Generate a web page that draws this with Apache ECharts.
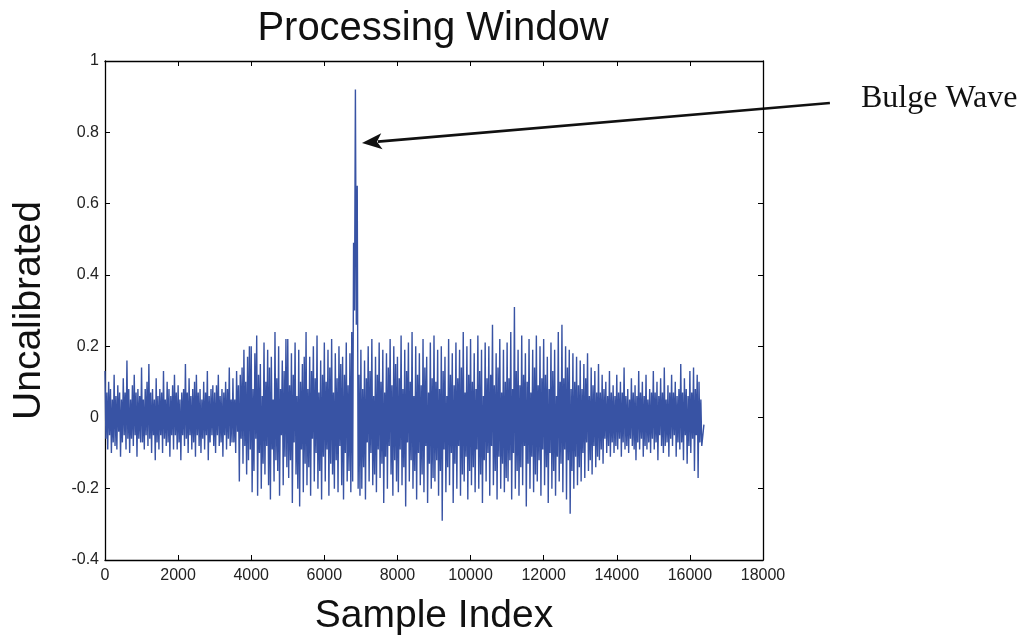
<!DOCTYPE html>
<html>
<head>
<meta charset="utf-8">
<script src="https://cdn.jsdelivr.net/npm/echarts@6/dist/echarts.min.js"></script>
<style>
html,body{margin:0;padding:0;background:#fff;}
#c{width:1023px;height:637px;}
</style>
</head>
<body>
<div id="c"></div>
<script>
// ---- data ----
const chartTitle = 'Processing Window';
const xAxisName = 'Sample Index';
const yAxisName = 'Uncalibrated';
const xRange = [0, 18000];
const xTickStep = 2000;
const yRange = [-0.4, 1];
const yTickStep = 0.2;
const sampleStep = 25;          // spacing between the read-off samples
const signal = [
  0.13,-0.06,0.07,-0.09,0.10,-0.05,0.08,-0.10,0.05,-0.07,0.12,-0.08,0.06,-0.09,0.09,-0.04,0.07,-0.11,0.05,-0.07,
  0.11,-0.05,0.07,-0.09,0.16,-0.06,0.08,-0.10,0.05,-0.06,0.09,-0.08,0.12,-0.05,0.07,-0.11,0.08,-0.06,0.06,-0.07,
  0.14,-0.07,0.05,-0.09,0.08,-0.05,0.10,-0.08,0.15,-0.06,0.07,-0.10,0.08,-0.05,0.05,-0.12,0.11,-0.07,0.06,-0.09,
  0.08,-0.05,0.07,-0.10,0.13,-0.06,0.05,-0.08,0.10,-0.07,0.08,-0.11,0.06,-0.05,0.09,-0.09,0.12,-0.05,0.07,-0.09,
  0.09,-0.07,0.05,-0.12,0.07,-0.05,0.08,-0.08,0.15,-0.06,0.07,-0.10,0.11,-0.05,0.06,-0.09,0.08,-0.07,0.10,-0.11,
  0.12,-0.05,0.07,-0.08,0.08,-0.10,0.05,-0.06,0.10,-0.09,0.07,-0.05,0.13,-0.12,0.06,-0.07,0.08,-0.05,0.09,-0.08,
  0.07,-0.10,0.09,-0.05,0.12,-0.08,0.06,-0.07,0.08,-0.11,0.07,-0.05,0.10,-0.09,0.08,-0.06,0.14,-0.08,0.05,-0.07,
  0.11,-0.07,0.05,-0.10,0.13,-0.04,0.09,-0.18,0.12,-0.06,0.14,-0.13,0.19,-0.08,0.10,-0.16,0.17,-0.12,0.20,-0.09,
  0.20,-0.21,0.08,-0.15,0.18,-0.06,0.23,-0.22,0.12,-0.10,0.15,-0.20,0.06,-0.13,0.21,-0.16,0.10,-0.08,0.19,-0.19,
  0.14,-0.23,0.17,-0.09,0.05,-0.18,0.24,-0.12,0.11,-0.15,0.20,-0.22,0.08,-0.05,0.16,-0.19,0.13,-0.11,0.22,-0.14,
  0.22,-0.17,0.09,-0.12,0.18,-0.24,0.12,-0.07,0.21,-0.16,0.06,-0.20,0.19,-0.25,0.10,-0.09,0.15,-0.21,0.17,-0.13,
  0.24,-0.19,0.08,-0.14,0.17,-0.22,0.13,-0.06,0.20,-0.18,0.11,-0.10,0.23,-0.20,0.07,-0.15,0.16,-0.23,0.12,-0.11,
  0.21,-0.18,0.10,-0.09,0.19,-0.22,0.14,-0.13,0.22,-0.16,0.07,-0.20,0.18,-0.12,0.11,-0.21,0.20,-0.08,0.15,-0.19,
  0.17,-0.23,0.12,-0.10,0.21,-0.18,0.09,-0.15,0.18,-0.21,0.24,-0.18,0.49,0.30,0.92,0.26,0.65,-0.20,0.12,-0.22,
  0.19,-0.20,0.08,-0.14,0.16,-0.23,0.11,-0.07,0.20,-0.18,0.13,-0.10,0.22,-0.19,0.06,-0.16,0.17,-0.21,0.12,-0.09,
  0.21,-0.17,0.10,-0.13,0.19,-0.24,0.07,-0.11,0.18,-0.20,0.14,-0.08,0.22,-0.16,0.09,-0.22,0.20,-0.12,0.15,-0.18,
  0.17,-0.21,0.11,-0.09,0.23,-0.19,0.08,-0.14,0.19,-0.25,0.13,-0.07,0.21,-0.18,0.10,-0.12,0.24,-0.20,0.06,-0.15,
  0.20,-0.23,0.12,-0.10,0.18,-0.19,0.09,-0.16,0.22,-0.21,0.14,-0.08,0.17,-0.24,0.07,-0.13,0.21,-0.20,0.11,-0.17,
  0.23,-0.18,0.10,-0.12,0.19,-0.22,0.08,-0.15,0.20,-0.29,0.13,-0.09,0.17,-0.21,0.06,-0.14,0.22,-0.19,0.12,-0.10,
  0.18,-0.24,0.09,-0.13,0.21,-0.20,0.11,-0.08,0.19,-0.22,0.14,-0.16,0.24,-0.18,0.07,-0.11,0.20,-0.23,0.12,-0.15,
  0.22,-0.19,0.10,-0.14,0.18,-0.21,0.08,-0.09,0.23,-0.20,0.13,-0.16,0.19,-0.24,0.06,-0.12,0.21,-0.18,0.11,-0.10,
  0.20,-0.22,0.12,-0.08,0.26,-0.19,0.09,-0.15,0.18,-0.23,0.14,-0.11,0.22,-0.20,0.07,-0.13,0.19,-0.21,0.10,-0.17,
  0.21,-0.18,0.11,-0.12,0.24,-0.23,0.08,-0.10,0.31,-0.20,0.13,-0.15,0.19,-0.22,0.09,-0.14,0.23,-0.19,0.12,-0.08,
  0.18,-0.25,0.10,-0.13,0.22,-0.20,0.07,-0.11,0.19,-0.21,0.14,-0.16,0.23,-0.18,0.09,-0.12,0.20,-0.22,0.11,-0.09,
  0.22,-0.19,0.12,-0.14,0.17,-0.24,0.08,-0.10,0.21,-0.20,0.13,-0.15,0.19,-0.22,0.06,-0.11,0.24,-0.18,0.10,-0.13,
  0.26,-0.21,0.11,-0.09,0.20,-0.23,0.14,-0.12,0.19,-0.27,0.08,-0.15,0.18,-0.20,0.10,-0.11,0.17,-0.19,0.09,-0.14,
  0.16,-0.18,0.08,-0.10,0.15,-0.17,0.11,-0.07,0.18,-0.15,0.06,-0.12,0.14,-0.16,0.09,-0.08,0.13,-0.14,0.07,-0.11,
  0.15,-0.12,0.07,-0.09,0.12,-0.13,0.08,-0.06,0.10,-0.10,0.06,-0.08,0.13,-0.11,0.07,-0.07,0.09,-0.10,0.06,-0.08,
  0.12,-0.09,0.07,-0.06,0.10,-0.11,0.07,-0.07,0.14,-0.09,0.06,-0.08,0.08,-0.10,0.05,-0.06,0.11,-0.08,0.07,-0.09,
  0.09,-0.12,0.06,-0.07,0.13,-0.09,0.07,-0.06,0.10,-0.11,0.06,-0.08,0.12,-0.09,0.05,-0.07,0.08,-0.10,0.07,-0.06,
  0.13,-0.09,0.07,-0.07,0.10,-0.12,0.06,-0.05,0.11,-0.08,0.07,-0.10,0.14,-0.08,0.05,-0.07,0.09,-0.11,0.07,-0.06,
  0.12,-0.08,0.07,-0.05,0.10,-0.11,0.06,-0.07,0.08,-0.09,0.15,-0.07,0.07,-0.12,0.11,-0.05,0.08,-0.13,0.06,-0.08,
  0.13,-0.10,0.07,-0.06,0.14,-0.15,0.08,-0.05,0.12,-0.17,0.10,-0.07,0.05,-0.08
];
const lastSample = [16384, -0.02];
const annotationText = 'Bulge Wave';
const arrowTip = [7030, 0.77];     // data coords of arrow head
const arrowTail = [19830, 0.882];  // data coords of arrow tail (outside axes)

// ---- build ----
const seriesData = signal.map((v, i) => [i * sampleStep, v]);
seriesData.push(lastSample);

const FONT = "'Liberation Sans', Arial, Helvetica, sans-serif";
const chart = echarts.init(document.getElementById('c'), null, {renderer: 'canvas'});

const tickCommon = {show: true, inside: true, length: 5, lineStyle: {color: '#000', width: 1}};
const lineCommon = {show: true, onZero: false, lineStyle: {color: '#000', width: 1.3}};

chart.setOption({
  animation: false,
  backgroundColor: '#fff',
  title: {
    text: chartTitle,
    left: 428, top: 4, textAlign: 'center',
    textStyle: {fontFamily: FONT, fontSize: 40, fontWeight: 'normal', color: '#111'}
  },
  grid: {left: 105, right: 260, top: 61, bottom: 77, containLabel: false, outerBoundsMode: 'none'},
  xAxis: [{
    type: 'value', min: xRange[0], max: xRange[1], interval: xTickStep,
    position: 'bottom',
    name: xAxisName, nameLocation: 'middle', nameGap: 37,
    nameTextStyle: {fontFamily: FONT, fontSize: 39, color: '#111'},
    axisLine: lineCommon, axisTick: tickCommon,
    axisLabel: {fontFamily: FONT, fontSize: 16, color: '#222', margin: 8,
      formatter: v => String(v)},
    splitLine: {show: false}
  }, {
    type: 'value', min: xRange[0], max: xRange[1], interval: xTickStep,
    position: 'top',
    axisLine: lineCommon, axisTick: tickCommon,
    axisLabel: {show: false}, splitLine: {show: false}
  }],
  yAxis: [{
    type: 'value', min: yRange[0], max: yRange[1], interval: yTickStep,
    position: 'left',
    name: yAxisName, nameLocation: 'middle', nameGap: 56,
    nameTextStyle: {fontFamily: FONT, fontSize: 39, color: '#111'},
    axisLine: lineCommon, axisTick: tickCommon,
    axisLabel: {fontFamily: FONT, fontSize: 16, color: '#222', margin: 6,
      formatter: v => String(Math.round(v * 10) / 10)},
    splitLine: {show: false}
  }, {
    type: 'value', min: yRange[0], max: yRange[1], interval: yTickStep,
    position: 'right',
    axisLine: lineCommon, axisTick: tickCommon,
    axisLabel: {show: false}, splitLine: {show: false}
  }],
  series: [{
    type: 'line',
    xAxisIndex: 0, yAxisIndex: 0,
    data: seriesData,
    showSymbol: false,
    symbol: 'none',
    lineStyle: {color: '#3853a4', width: 1.4},
    sampling: null,
    silent: true
  }]
});

// annotation arrow, positioned through the axes' own scales
const tip = chart.convertToPixel({xAxisIndex: 0, yAxisIndex: 0}, arrowTip);
const tail = chart.convertToPixel({xAxisIndex: 0, yAxisIndex: 0}, arrowTail);
const dx = tail[0] - tip[0], dy = tail[1] - tip[1];
const len = Math.sqrt(dx * dx + dy * dy);
const ux = dx / len, uy = dy / len;
const headLen = 20, headW = 8;
const bx = tip[0] + ux * headLen, by = tip[1] + uy * headLen;
chart.setOption({
  graphic: [
    {type: 'line', shape: {x1: bx - ux * 4, y1: by - uy * 4, x2: tail[0], y2: tail[1]},
     style: {stroke: '#111', lineWidth: 2.6}, silent: true},
    {type: 'polygon', shape: {points: [
      [tip[0], tip[1]],
      [bx - uy * headW, by + ux * headW],
      [tip[0] + ux * headLen * 0.75, tip[1] + uy * headLen * 0.75],
      [bx + uy * headW, by - ux * headW]
    ]}, style: {fill: '#111'}, silent: true},
    {type: 'text', left: 861, top: 83,
     style: {text: annotationText, font: "32px 'Liberation Serif', 'Times New Roman', serif", fill: '#111'},
     silent: true}
  ]
});
</script>
</body>
</html>
